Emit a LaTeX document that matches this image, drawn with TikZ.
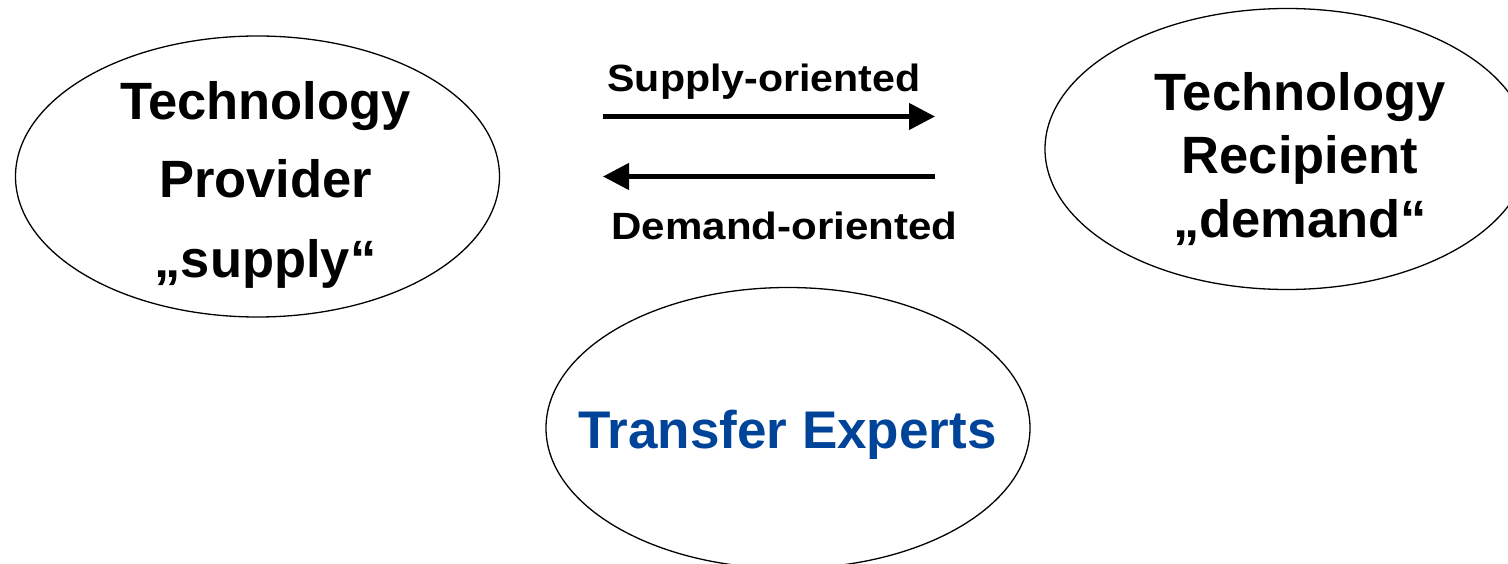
\documentclass[tikz,border=0pt]{standalone}
\usepackage{fontspec}
\setmainfont{Liberation Sans}
\usetikzlibrary{shapes.geometric,arrows.meta}
\definecolor{expertblue}{RGB}{0,68,153}
\tikzset{
  party/.style={ellipse, draw=black, line width=1.3pt, fill=white,
    minimum width=484pt, minimum height=281pt, inner sep=0pt},
  bigword/.style={anchor=base, inner sep=0pt,
    font=\fontsize{52.5}{60}\selectfont\bfseries},
  flowword/.style={anchor=base, inner sep=0pt,
    font=\fontsize{38}{44}\selectfont\bfseries},
  flow/.style={line width=4.5pt, -{Triangle[length=26pt,width=26pt]}}
}
\begin{document}
\begin{tikzpicture}[x=1pt,y=-1pt]
  \useasboundingbox (0,0) rectangle (1508,564);
  \clip (0,0) rectangle (1508,564);

  % the three parties
  \node[party] (provider)  at (257.5,176.5) {};
  \node[party] (recipient) at (1287,149) {};
  \node[party] (experts)   at (788,428) {};

  % provider text
  \node[bigword] (prov1) at (265.5,120) {Technology};
  \node[bigword] (prov2) at (265.5,198) {Provider};
  \node[bigword] (prov3) at (265.5,278) {„supply“};

  % recipient text
  \node[bigword] (rec1) at (1300,110.5) {Technology};
  \node[bigword] (rec2) at (1300,174) {Recipient};
  \node[bigword] (rec3) at (1300,238) {„demand“};

  % transfer experts
  \node[bigword, font=\fontsize{53}{60}\selectfont\bfseries, text=expertblue]
    (exp1) at (787.5,448) {Transfer Experts};

  % the two transfer directions
  \coordinate (supS) at (603,116.5);
  \coordinate (supE) at (935,116.5);
  \coordinate (demS) at (935,176.5);
  \coordinate (demE) at (603,176.5);
  \draw[flow] (supS) -- (supE);
  \draw[flow] (demS) -- (demE);

  \node[flowword] (suplbl) at (764,92)
    {\resizebox{313pt}{\height}{Supply-oriented}};
  \node[flowword] (demlbl) at (784.5,239.5)
    {\resizebox{346pt}{\height}{Demand-oriented}};
\end{tikzpicture}
\end{document}
